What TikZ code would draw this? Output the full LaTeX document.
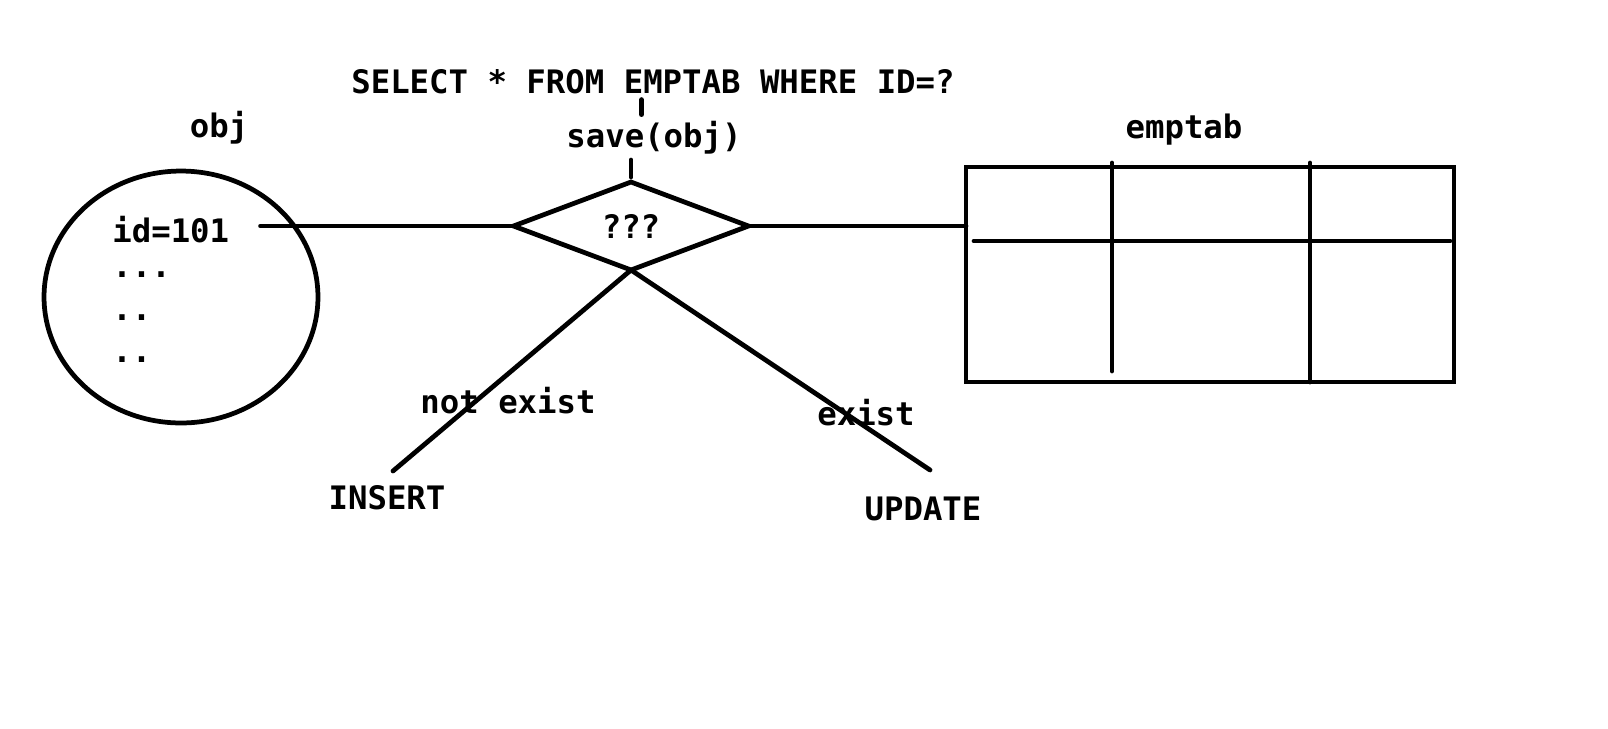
\documentclass[tikz,border=0pt]{standalone}
\usepackage{fontspec}
\setmonofont{DejaVu Sans Mono}
\usetikzlibrary{shapes.geometric}
\tikzset{
    label text/.style={font=\ttfamily\bfseries\fontsize{18.4pt}{22pt}\selectfont, inner sep=0pt},
    obj shape/.style={draw, ellipse, minimum width=5.48cm, minimum height=5.04cm},
    check shape/.style={draw, diamond, minimum width=4.7cm, minimum height=1.76cm, inner sep=0pt, outer sep=0pt},
    table shape/.style={draw, rectangle, minimum width=9.76cm, minimum height=4.3cm, inner sep=0pt, outer sep=0pt},
}

\begin{document}
\begin{tikzpicture}[x=0.02cm, y=-0.02cm, line width=0.095cm, line cap=round, every node/.style={label text}]
    \useasboundingbox (0,0) rectangle (1608,728);
    \node (sql) at (653,82) {SELECT * FROM EMPTAB WHERE ID=?};
    \node (save) at (654,138) {save(obj)};
    \node[check shape] (q) at (631,226) {???};
    \node[obj shape] (obj) at (181,297) {};
    \node (objname) at (219,128) {obj};
    \node[anchor=west] (id) at (110,230) {id=101};
    \node[anchor=west] (d1) at (110,275) {...};
    \node[anchor=west] (d2) at (110,318) {..};
    \node[anchor=west] (d3) at (110,360) {..};
    \node[table shape] (tab) at (1210,274.5) {};
    \node (tabname) at (1184,130) {emptab};
    \draw (974,241) -- (1450,241);
    \draw (1112,163) -- (1112,371);
    \draw (1310,163) -- (1310,382);
    \draw ([xshift=0.58cm]id.east |- q.west) -- (q.west);
    \draw (q.east) -- (q.east -| tab.west);
    \draw ([xshift=-0.23cm]sql.south) ++(0,3) -- ++(0,15);
    \draw (q.north) ++(0,-5) -- ++(0,-17);
    \coordinate (ins end) at (393,471);
    \coordinate (upd end) at (930,470);
    \draw (q.south) -- (ins end);
    \draw (q.south) -- (upd end);
    \node (notexist) at (508,401) {not exist};
    \node (exist) at (866,413) {exist};
    \node (ins) at (387,498) {INSERT};
    \node (upd) at (923,509) {UPDATE};
\end{tikzpicture}
\end{document}
